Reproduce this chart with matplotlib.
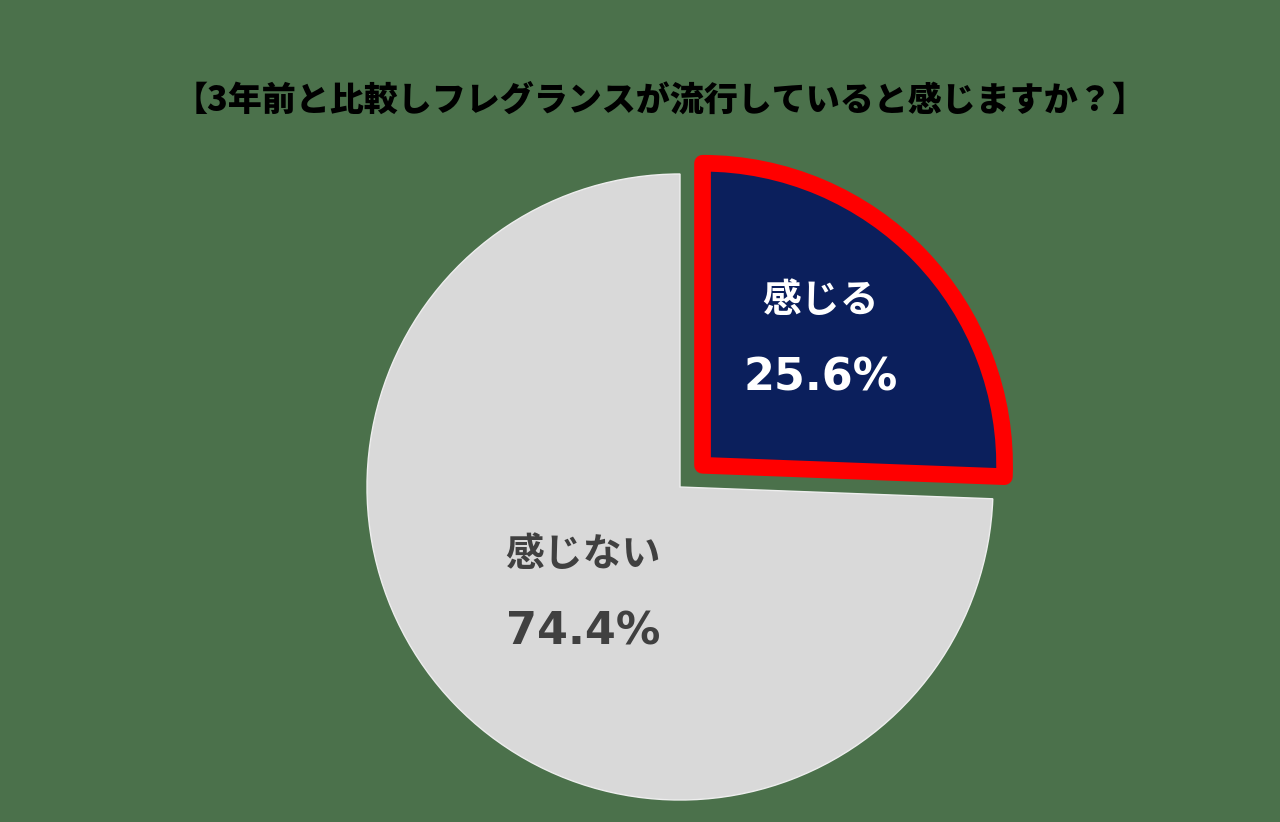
import matplotlib
matplotlib.use('Agg')
import matplotlib.pyplot as plt

plt.rcParams['font.family'] = ['Noto Sans CJK JP', 'DejaVu Sans']

title = '【3年前と比較しフレグランスが流行していると感じますか？】'
labels = ['感じる', '感じない']
values = [25.6, 74.4]
colors = ['#0b1f5c', '#d9d9d9']
text_colors = ['white', '#404040']

bg = '#4b714b'
fig = plt.figure(figsize=(12.8, 8.22), dpi=100, facecolor=bg)
ax = fig.add_axes([0, 0, 1, 1])
ax.set_facecolor(bg)

wedges, _ = ax.pie(values, colors=colors, startangle=90, counterclock=False,
                   explode=[0.1, 0], radius=1.0,
                   wedgeprops=dict(linewidth=1, edgecolor='#eeeeee'))
wedges[0].set_radius(0.965)
wedges[0].set_edgecolor('#ff0000')
wedges[0].set_linewidth(12)
wedges[0].set_joinstyle('round')
wedges[0].set_zorder(3)

# pixel-matched limits: 1 data unit = 313 px, pie centre at (680, 487)
ax.set_xlim(-680 / 313, 600 / 313)
ax.set_ylim(-335 / 313, 487 / 313)
ax.set_aspect('auto')
ax.axis('off')

label_pos = [(0.45, 0.597, 0.348), (-0.31, -0.217, -0.463)]
for lab, val, c, (x, y1, y2) in zip(labels, values, text_colors, label_pos):
    ax.text(x, y1, lab, ha='center', va='center', fontsize=28,
            fontweight='bold', color=c, zorder=5)
    ax.text(x, y2, f'{val:.1f}%', ha='center', va='center', fontsize=32,
            fontweight='bold', color=c, family=['DejaVu Sans'], zorder=5)

fig.text(660 / 1280, 1 - 100 / 822, title, ha='center', va='center',
         fontsize=24.5, fontweight='heavy', color='black')

fig.savefig('out.png', dpi=100, facecolor=bg)
